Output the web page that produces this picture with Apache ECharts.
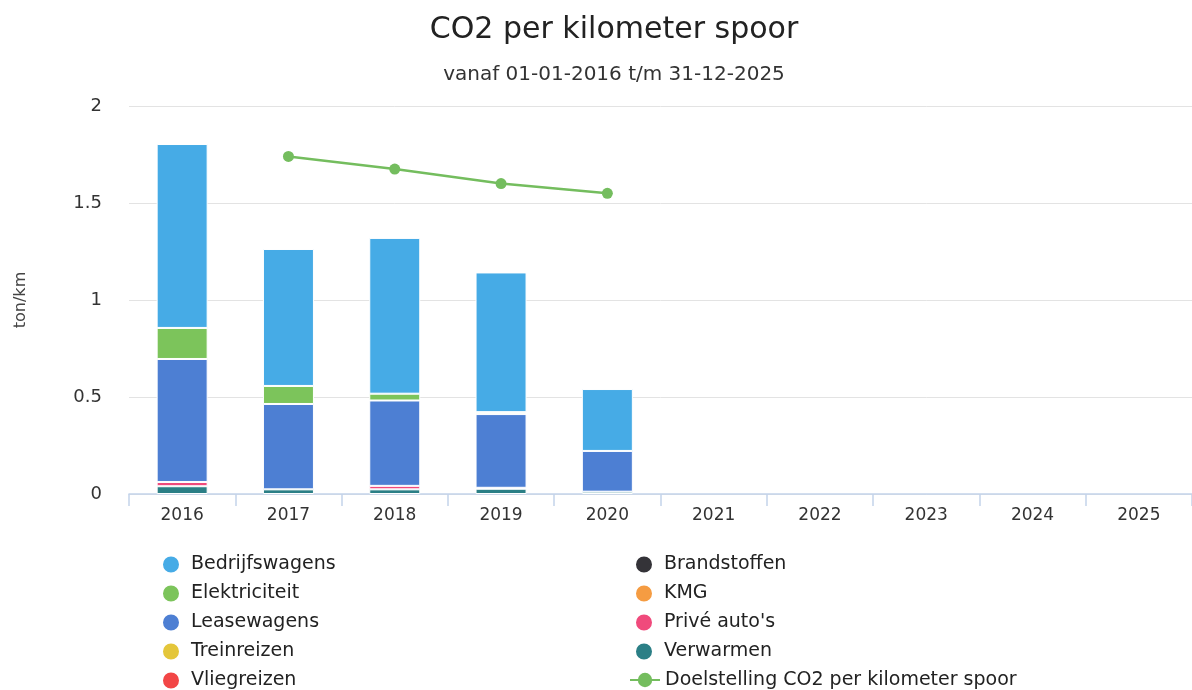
<!DOCTYPE html>
<html>
<head>
<meta charset="utf-8">
<script src="https://cdn.jsdelivr.net/npm/echarts@6/dist/echarts.min.js"></script>
<style>
html,body{margin:0;padding:0;background:#fff;}
#c{width:1192px;height:690px;}
</style>
</head>
<body>
<div id="c"></div>
<script>
var categories = ['2016','2017','2018','2019','2020','2021','2022','2023','2024','2025'];
var bedrijfswagens = [0.948, 0.706, 0.803, 0.720, 0.319, null, null, null, null, null];
var elektriciteit  = [0.160, 0.093, 0.035, 0.010, null, null, null, null, null, null];
var leasewagens    = [0.634, 0.440, 0.440, 0.380, 0.210, null, null, null, null, null];
var treinreizen    = [null, null, null, null, null, null, null, null, null, null];
var vliegreizen    = [null, null, null, null, null, null, null, null, null, null];
var brandstoffen   = [null, null, null, null, null, null, null, null, null, null];
var kmg            = [null, null, null, null, null, null, null, null, null, null];
var priveAutos     = [0.022, null, 0.018, 0.005, null, null, null, null, null, null];
var verwarmen      = [0.040, 0.024, 0.024, 0.027, 0.012, null, null, null, null, null];
var doelstelling   = [null, 1.74, 1.675, 1.60, 1.55, null, null, null, null, null];
var yTicks = {min: 0, max: 2, interval: 0.5};
var legendCol1 = ['Bedrijfswagens','Elektriciteit','Leasewagens','Treinreizen','Vliegreizen'];
var legendCol2 = ['Brandstoffen','KMG',"Privé auto's",'Verwarmen','Doelstelling CO2 per kilometer spoor'];

var FONT = 'DejaVu Sans';
var colors = {
  'Bedrijfswagens': '#46abe6',
  'Elektriciteit': '#7cc45b',
  'Leasewagens': '#4d7fd3',
  'Treinreizen': '#e4c63a',
  'Vliegreizen': '#f24646',
  'Brandstoffen': '#343338',
  'KMG': '#f59c42',
  "Privé auto's": '#f04a7c',
  'Verwarmen': '#2b7f86',
  'Doelstelling CO2 per kilometer spoor': '#74bd5e'
};

function bar(name, data) {
  return {
    name: name, type: 'bar', stack: 'total', data: data, barWidth: 51,
    itemStyle: {color: colors[name], borderColor: '#ffffff', borderWidth: 1},
    emphasis: {disabled: true}
  };
}

var series = [
  bar('Verwarmen', verwarmen),
  bar("Privé auto's", priveAutos),
  bar('KMG', kmg),
  bar('Brandstoffen', brandstoffen),
  bar('Vliegreizen', vliegreizen),
  bar('Treinreizen', treinreizen),
  bar('Leasewagens', leasewagens),
  bar('Elektriciteit', elektriciteit),
  bar('Bedrijfswagens', bedrijfswagens),
  {
    name: 'Doelstelling CO2 per kilometer spoor', type: 'line', data: doelstelling,
    symbol: 'circle', symbolSize: 11, z: 5,
    lineStyle: {color: colors['Doelstelling CO2 per kilometer spoor'], width: 2.5},
    itemStyle: {color: colors['Doelstelling CO2 per kilometer spoor']},
    emphasis: {disabled: true}
  }
];

var legends = [];
function addLegendColumn(names, left, lineLeft) {
  names.forEach(function (n, i) {
    var isLine = n.indexOf('Doelstelling') === 0;
    var item = isLine ? {name: n} : {name: n, icon: 'circle'};
    legends.push({
      data: [item], left: isLine ? lineLeft : left, top: 566.5 - 12 + i * 29, height: 30,
      itemWidth: 30, itemHeight: 18, padding: 0, selectedMode: false,
      textStyle: {fontFamily: FONT, fontSize: 19, color: '#222', padding: [0, 0, 0, 0]}
    });
  });
}
addLegendColumn(legendCol1, 161, 161);
addLegendColumn(legendCol2, 634, 629);

var option = {
  backgroundColor: '#ffffff',
  animation: false,
  title: [
    {text: 'CO2 per kilometer spoor', left: 609, top: 10, textAlign: 'center',
     textStyle: {fontFamily: FONT, fontSize: 30, fontWeight: 'normal', color: '#222'}},
    {text: 'vanaf 01-01-2016 t/m 31-12-2025', left: 609, top: 60, textAlign: 'center',
     textStyle: {fontFamily: FONT, fontSize: 20, fontWeight: 'normal', color: '#333'}}
  ],
  legend: legends,
  grid: {left: 129, top: 106, width: 1067, height: 388, containLabel: false},
  xAxis: {
    type: 'category', data: categories, boundaryGap: true,
    axisLine: {lineStyle: {color: '#c4d3ea', width: 1.5}},
    axisTick: {show: true, length: 12, lineStyle: {color: '#c4d3ea', width: 1.5}},
    axisLabel: {fontFamily: FONT, fontSize: 17, color: '#333', margin: 13}
  },
  yAxis: {
    type: 'value', min: yTicks.min, max: yTicks.max, interval: yTicks.interval,
    name: 'ton/km', nameLocation: 'middle', nameGap: 100,
    nameTextStyle: {fontFamily: FONT, fontSize: 16, color: '#444'},
    axisLine: {show: false}, axisTick: {show: false},
    axisLabel: {fontFamily: FONT, fontSize: 18, color: '#333', margin: 27},
    splitLine: {lineStyle: {color: '#e3e3e3', width: 1}}
  },
  series: series
};

var chart = echarts.init(document.getElementById('c'), null, {renderer: 'canvas'});
chart.setOption(option);
</script>
</body>
</html>
